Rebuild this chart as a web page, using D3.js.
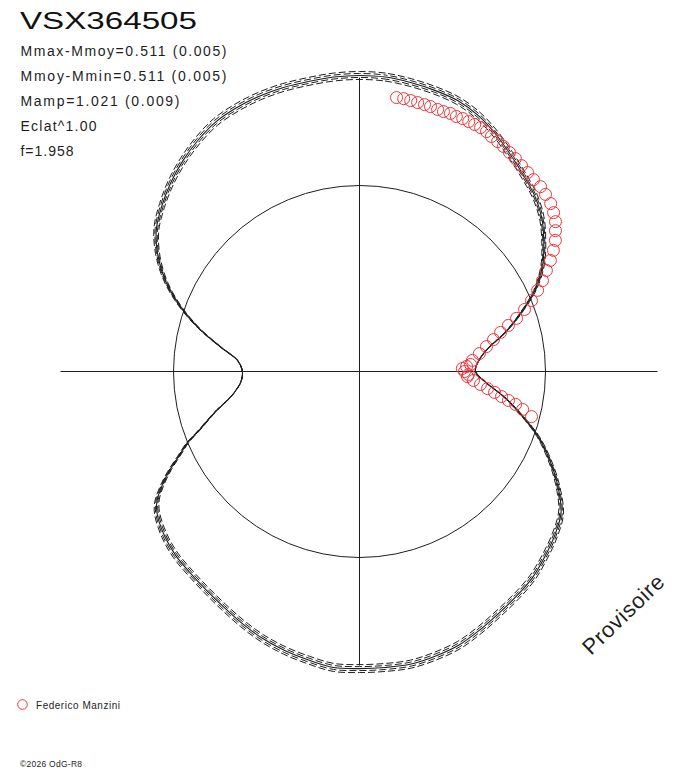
<!DOCTYPE html>
<html><head><meta charset="utf-8">
<script src="https://cdn.jsdelivr.net/npm/d3@7"></script>
<style>body{margin:0;background:#fff;} svg{display:block;}</style>
</head><body>
<svg id="c" width="688" height="768"></svg>
<script>
// ---- data ----
const title = "VSX364505";
const infoLines = ["Mmax-Mmoy=0.511 (0.005)", "Mmoy-Mmin=0.511 (0.005)", "Mamp=1.021 (0.009)", "Eclat^1.00", "f=1.958"];
const infoWidths = [206, 206, 159, 76, 53];
const observer = "Federico Manzini";
const credit = "©2026 OdG-R8";
const stamp = "Provisoire";

// model curve: phase (degrees) and magnitude relative to mean
const modelPhaseDeg = [0,5,10,15,20,25,30,35,40,45,50,55,60,65,70,75,80,85,90,95,100,105,110,115,120,125,130,135,140,145,150,155,160,165,170,175,180,185,190,195,200,205,210,215,220,225,230,235,237.5,240,242.5,245,247.5,250,252.5,255,257.5,260,265,270,275,280,285,290,295,300,305,310,315,320,325,330,335,340,345,350,355];
const modelDmag = [-0.511,-0.509,-0.499,-0.488,-0.474,-0.446,-0.406,-0.362,-0.323,-0.288,-0.242,-0.181,-0.118,-0.037,0.065,0.163,0.260,0.309,0.325,0.274,0.181,0.086,-0.019,-0.111,-0.200,-0.279,-0.320,-0.353,-0.386,-0.409,-0.432,-0.460,-0.488,-0.504,-0.516,-0.516,-0.516,-0.516,-0.497,-0.478,-0.455,-0.427,-0.399,-0.376,-0.358,-0.344,-0.320,-0.284,-0.251,-0.195,-0.130,-0.060,0.000,0.074,0.130,0.181,0.232,0.269,0.311,0.320,0.297,0.209,0.093,-0.023,-0.130,-0.218,-0.288,-0.334,-0.376,-0.413,-0.446,-0.474,-0.488,-0.497,-0.502,-0.504,-0.509];
// amplitude uncertainty variants of the model
const ampErr = [-0.022, -0.011, 0.011, 0.022];

// observations (Federico Manzini)
const obsPhaseDeg = [7.7,9.2,10.7,12.2,13.7,15.0,16.6,17.9,19.4,20.8,22.2,23.6,25.0,26.4,27.9,29.3,31.0,32.6,34.4,36.2,38.2,40.2,42.2,44.4,46.4,48.7,50.7,52.6,54.3,56.2,58.0,59.8,61.6,63.6,65.5,67.6,69.4,71.3,72.8,74.5,76.6,78.9,81.5,84.4,86.4,87.3,88.3,90.0,91.6,92.7,94.5,96.1,97.6,98.8,100.0,101.0,101.9,103.1,104.7];
const obsDmag = [-0.420,-0.420,-0.417,-0.414,-0.412,-0.410,-0.406,-0.405,-0.407,-0.403,-0.405,-0.403,-0.402,-0.401,-0.397,-0.388,-0.382,-0.377,-0.369,-0.362,-0.353,-0.346,-0.339,-0.338,-0.329,-0.318,-0.301,-0.282,-0.257,-0.231,-0.198,-0.162,-0.123,-0.085,-0.045,0.000,0.045,0.094,0.140,0.184,0.224,0.263,0.301,0.337,0.347,0.366,0.386,0.376,0.358,0.362,0.333,0.299,0.264,0.229,0.194,0.159,0.123,0.086,0.038];

// ---- drawing ----
const svg = d3.select("#c");
const cx = 359.5, cy = 371.5;
const rScale = d3.scaleLinear().domain([0, -0.511]).range([186, 296]);
const aScale = d3.scaleLinear().domain([0, 360]).range([0, 2 * Math.PI]);
const font = "'Liberation Sans', Arial, sans-serif";
const ink = "#1e1e1e";

const g = svg.append("g").attr("transform", `translate(${cx},${cy})`);
g.append("line").attr("x1", -299).attr("x2", 298).attr("y1", 0).attr("y2", 0).attr("stroke", ink).attr("stroke-width", 1);
g.append("line").attr("x1", 0).attr("x2", 0).attr("y1", -294).attr("y2", 294).attr("stroke", ink).attr("stroke-width", 1);
g.append("circle").attr("r", rScale(0)).attr("fill", "none").attr("stroke", ink).attr("stroke-width", 1);

const model = modelPhaseDeg.map((p, i) => ({ p, m: modelDmag[i] }));
const mMin = d3.max(modelDmag);
const line = d3.lineRadial()
  .angle(d => aScale(d.p))
  .radius(d => rScale(d.m))
  .curve(d3.curveCatmullRomClosed.alpha(0.5));

ampErr.forEach((e, k) => {
  const v = model.map(d => ({ p: d.p, m: mMin + (d.m - mMin) * (1 + e) }));
  g.append("path").attr("d", line(v)).attr("fill", "none")
    .attr("stroke", ink).attr("stroke-width", 1)
    .attr("stroke-dasharray", "7,3").attr("stroke-dashoffset", k * 2.5);
});
g.append("path").attr("d", line(model)).attr("fill", "none").attr("stroke", ink).attr("stroke-width", 1.1);

const obs = obsPhaseDeg.map((p, i) => ({ p, m: obsDmag[i] }));
g.selectAll("circle.obs").data(obs).join("circle").attr("class", "obs")
  .attr("cx", d => rScale(d.m) * Math.sin(aScale(d.p)))
  .attr("cy", d => -rScale(d.m) * Math.cos(aScale(d.p)))
  .attr("r", 6).attr("fill", "none").attr("stroke", "#e8363c").attr("stroke-width", 1);

// ---- texts ----
svg.append("text").attr("x", 20).attr("y", 29).text(title)
  .attr("font-family", font).attr("font-size", 24).attr("fill", "#111")
  .attr("textLength", 177).attr("lengthAdjust", "spacingAndGlyphs");
infoLines.forEach((t, i) => {
  svg.append("text").attr("x", 20.5).attr("y", 56 + i * 25).text(t)
    .attr("font-family", font).attr("font-size", 14).attr("fill", ink)
    .attr("textLength", infoWidths[i]).attr("lengthAdjust", "spacing");
});
svg.append("circle").attr("cx", 22.5).attr("cy", 704.5).attr("r", 4.8)
  .attr("fill", "none").attr("stroke", "#e8363c").attr("stroke-width", 1);
svg.append("text").attr("x", 36).attr("y", 709).text(observer)
  .attr("font-family", font).attr("font-size", 10).attr("fill", ink)
  .attr("textLength", 84).attr("lengthAdjust", "spacing");
svg.append("text").attr("x", 20).attr("y", 767).text(credit)
  .attr("font-family", font).attr("font-size", 8.5).attr("fill", ink)
  .attr("textLength", 62).attr("lengthAdjust", "spacing");
svg.append("text").attr("transform", "translate(591,656) rotate(-44)").text(stamp)
  .attr("font-family", font).attr("font-size", 22).attr("fill", ink)
  .attr("textLength", 104).attr("lengthAdjust", "spacing");
</script>
</body></html>
